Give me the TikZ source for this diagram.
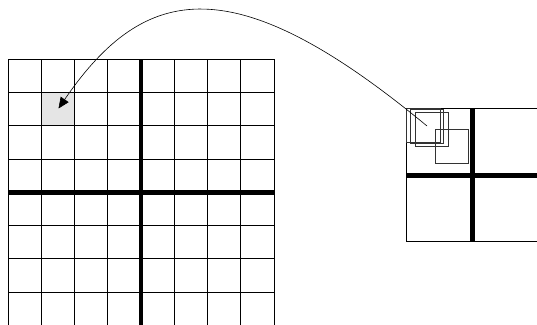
\documentclass[tikz,border=0pt]{standalone}
\usetikzlibrary{arrows.meta}
\begin{document}
\begin{tikzpicture}[x=1pt,y=-1pt,
  gridline/.style={line width=0.9pt,draw=black},
  boldline/.style={line width=4.6pt,draw=black},
  window/.style={line width=0.8pt,draw=black!80}]
\useasboundingbox (0,0) rectangle (537,324);
\clip (0,0) rectangle (537,324);
\fill[white] (0,0) rectangle (537,324);
% shaded cell
\fill[black!10] (41.25,92.5) rectangle (74.5,125.8);
% left grid
\foreach \i in {0,...,8} {
  \draw[gridline] (8+33.25*\i,59.3) -- (8+33.25*\i,326);
  \draw[gridline] (8,59.3+33.25*\i) -- (274,59.3+33.25*\i);
}
\draw[gridline] (41.25,92.5) rectangle (74.5,125.8);
\draw[boldline] (141,59.3) -- (141,326);
\draw[boldline] (8,192.3) -- (274,192.3);
% right figure
\draw[gridline] (540,108.3) -- (406.7,108.3) -- (406.7,241.7) -- (540,241.7);
\draw[boldline] (472.7,108.3) -- (472.7,241.7);
\draw[boldline] (406.7,175.5) -- (540,175.5);
% overlapping windows
\draw[window] (406.7,108.3) rectangle (440,142.7);
\draw[window] (410.7,109.3) rectangle (443.3,143.3);
\draw[window] (415,112.7) rectangle (448.3,146);
\draw[window] (435,129.3) rectangle (468.3,163.3);
% connector
\coordinate (src) at (427,126);
\coordinate (dst) at (58.5,108.5);
\draw[line width=0.6pt,-{Triangle[length=11pt,width=9.5pt]}] (src) .. controls (235,-33) and (145,-18) .. (dst);
\end{tikzpicture}
\end{document}
